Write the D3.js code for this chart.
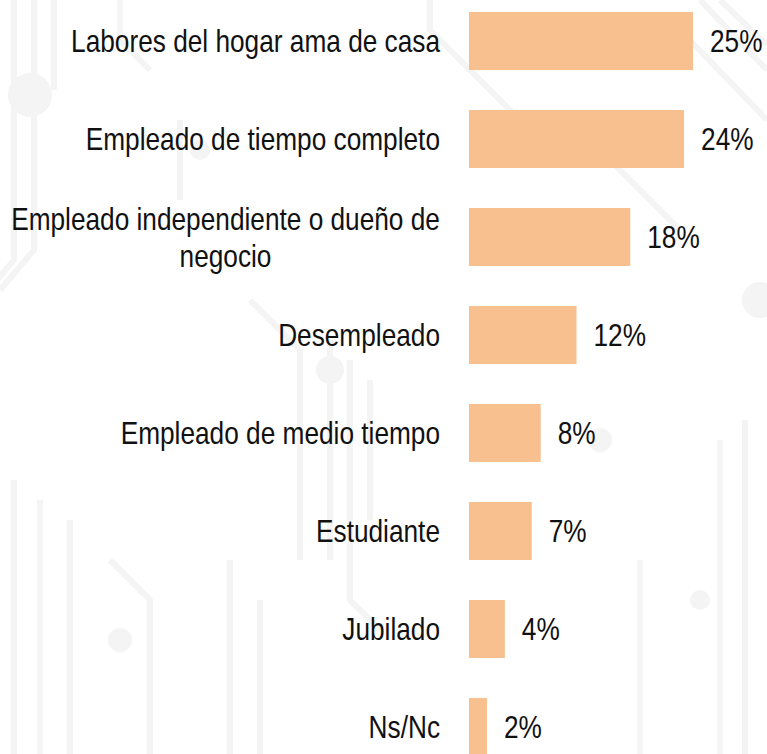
<!DOCTYPE html>
<html>
<head>
<meta charset="utf-8">
<script src="https://cdn.jsdelivr.net/npm/d3@7"></script>
<style>
  body { margin: 0; background: #fff; }
  svg text { font-family: "Liberation Sans", Arial, sans-serif; font-size: 32px; fill: #111; }
</style>
</head>
<body>
<div id="chart"></div>
<script>
// data
var categories = [
  "Labores del hogar ama de casa",
  "Empleado de tiempo completo",
  "Empleado independiente o dueño de negocio",
  "Desempleado",
  "Empleado de medio tiempo",
  "Estudiante",
  "Jubilado",
  "Ns/Nc"
];
var values = [25, 24, 18, 12, 8, 7, 4, 2];
// labels that wrap onto two lines
var labelLines = {
  "Empleado independiente o dueño de negocio": ["Empleado independiente o dueño de", "negocio"]
};

var width = 767,
  height = 754,
  narrow = 0.82, // squeeze Arial to look like Arial Narrow
  labelRight = 440;

var svg = d3
  .select("#chart")
  .append("svg")
  .attr("width", width)
  .attr("height", height);

// faint circuit-board texture behind the chart
var decor = svg
  .append("g")
  .attr("fill", "none")
  .attr("stroke", "#f4f4f4")
  .attr("stroke-width", 6);
var traces = [
  "M14,0 V260 L-20,300",
  "M34,0 V250 L0,290",
  "M54,0 V90",
  "M120,0 V40 L150,70",
  "M330,340 V560",
  "M350,360 V600 L380,630",
  "M370,380 V520",
  "M250,300 L300,350 V560",
  "M230,560 V754",
  "M260,600 V754",
  "M14,480 V754",
  "M40,500 V754",
  "M70,520 V754",
  "M700,0 L767,70",
  "M720,0 L767,45",
  "M680,30 L767,120",
  "M600,150 L680,230",
  "M720,440 V754",
  "M745,420 V754",
  "M640,560 V754",
  "M430,0 V30 L520,120",
  "M180,120 V200",
  "M110,560 L150,600 V754"
];
decor
  .selectAll("path")
  .data(traces)
  .enter()
  .append("path")
  .attr("d", function(d) { return d; });
var pads = [[30, 95, 22], [330, 370, 14], [760, 300, 18], [600, 440, 12], [200, 150, 10], [120, 640, 12], [700, 600, 10]];
decor
  .selectAll("circle")
  .data(pads)
  .enter()
  .append("circle")
  .attr("cx", function(d) { return d[0]; })
  .attr("cy", function(d) { return d[1]; })
  .attr("r", function(d) { return d[2]; })
  .attr("fill", "#f4f4f4")
  .attr("stroke", "none");

var x = d3
  .scaleLinear()
  .domain([0, 25])
  .range([469, 693]);

var y = d3
  .scaleBand()
  .domain(categories)
  .range([12, 756])
  .paddingInner(0.408)
  .paddingOuter(0);

svg
  .selectAll("rect.bar")
  .data(values)
  .enter()
  .append("rect")
  .attr("class", "bar")
  .attr("x", x(0))
  .attr("y", function(d, i) { return y(categories[i]); })
  .attr("width", function(d) { return x(d) - x(0); })
  .attr("height", y.bandwidth())
  .attr("fill", "#f8c08e");

// value labels
svg
  .selectAll("text.val")
  .data(values)
  .enter()
  .append("text")
  .attr("class", "val")
  .attr("transform", function(d, i) {
    return "translate(" + (x(d) + 17) + "," + (y(categories[i]) + y.bandwidth() / 2) + ") scale(" + narrow + ",1)";
  })
  .attr("dy", "0.35em")
  .text(function(d) { return d + "%"; });

// category labels
var lh = 37;
categories.forEach(function(c) {
  var lines = labelLines[c] || [c];
  var cy = y(c) + y.bandwidth() / 2;
  var g = svg.append("g").attr("class", "cat");
  if (lines.length === 1) {
    g.append("text")
      .attr("transform", "translate(" + labelRight + "," + cy + ") scale(" + narrow + ",1)")
      .attr("text-anchor", "end")
      .attr("dy", "0.35em")
      .text(c);
    return;
  }
  // centred block whose widest line ends at labelRight
  var texts = lines.map(function(line, j) {
    return g.append("text")
      .attr("text-anchor", "middle")
      .attr("dy", "0.35em")
      .text(line);
  });
  var maxW = d3.max(texts, function(t) { return t.node().getComputedTextLength(); }) * narrow;
  var cx = labelRight - maxW / 2;
  var top = cy - ((lines.length - 1) * lh) / 2;
  texts.forEach(function(t, j) {
    t.attr("transform", "translate(" + cx + "," + (top + j * lh) + ") scale(" + narrow + ",1)");
  });
});
</script>
</body>
</html>
